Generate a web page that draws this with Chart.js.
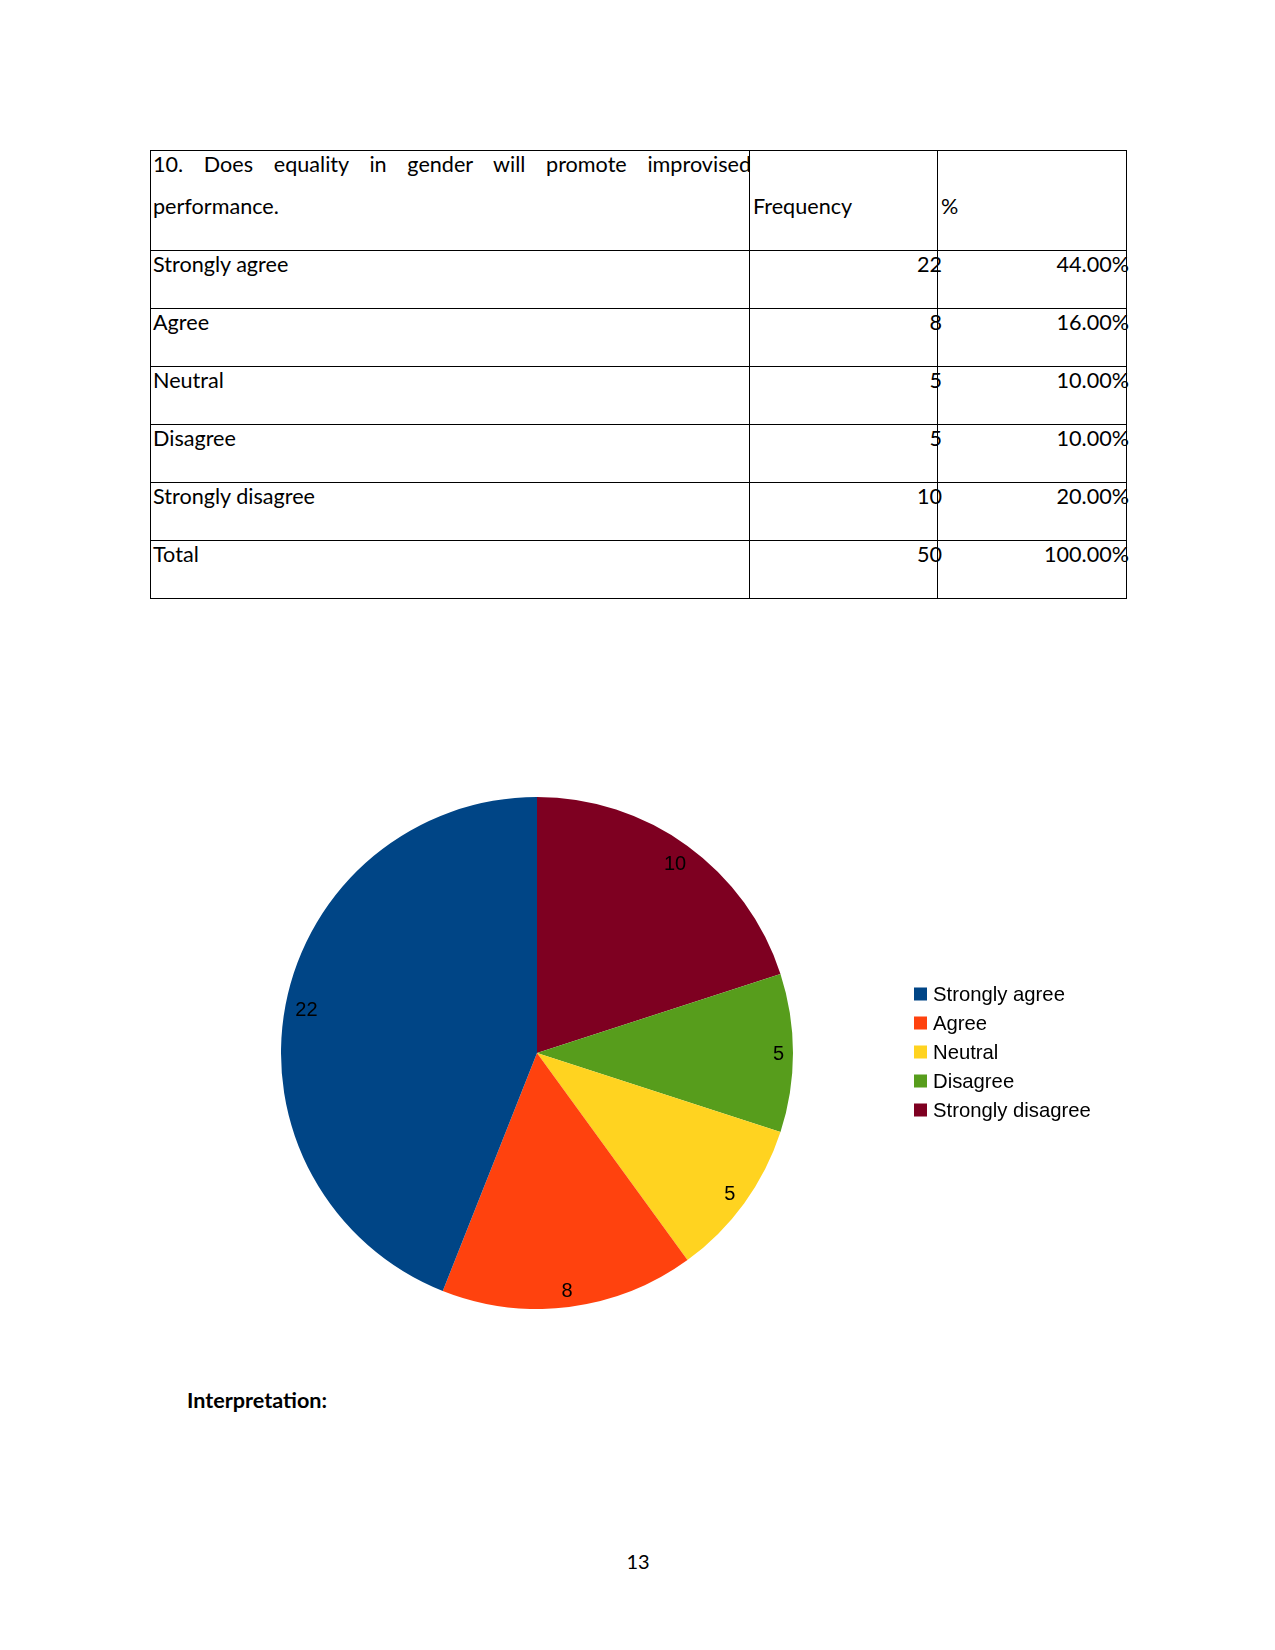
<!DOCTYPE html>
<html>
<head>
<meta charset="utf-8">
<script src="https://cdn.jsdelivr.net/npm/chart.js@4.4.0/dist/chart.umd.min.js"></script>
<style>
  html, body { margin: 0; padding: 0; background: #fff; }
  body { width: 1275px; height: 1650px; position: relative; overflow: hidden; font-family: Lato, "Liberation Sans", sans-serif; color: #000; }
  .t { position: absolute; font-size: 21.6px; line-height: 30px; white-space: nowrap; }
  .hl { position: absolute; background: #000; }
  #chartBox { position: absolute; left: 281px; top: 797px; width: 845px; height: 512px; }
</style>
</head>
<body>
<div id="table"></div>
<div id="chartBox"><canvas id="pie" width="845" height="512"></canvas></div>
<div class="t" style="left:187px; top:1385px; font-weight:bold;">Interpretation:</div>
<div class="t" style="left:618px; top:1546px; width:40px; text-align:center; font-size:20px;">13</div>

<script>
// ---- data ----
const question = "10. Does equality in gender will promote improvised";
const questionLine2 = "performance.";
const headerFreq = "Frequency";
const headerPct = "%";
const categories = ["Strongly agree", "Agree", "Neutral", "Disagree", "Strongly disagree"];
const frequencies = [22, 8, 5, 5, 10];
const percentLabels = ["44.00%", "16.00%", "10.00%", "10.00%", "20.00%"];
const totalLabel = "Total";
const totalFrequency = 50;
const totalPercent = "100.00%";
const sliceColors = ["#004586", "#ff420e", "#ffd320", "#579d1c", "#7e0021"];

// ---- table (HTML) ----
const tbl = document.getElementById('table');
const L = 150, R = 1126, C1 = 749, C2 = 937, TOP = 150, HEAD = 100, ROWH = 58;
const rows = categories.map((c, i) => [c, String(frequencies[i]), percentLabels[i]]);
rows.push([totalLabel, String(totalFrequency), totalPercent]);
const bottom = TOP + HEAD + ROWH * rows.length;
function line(x, y, w, h) {
  const d = document.createElement('div'); d.className = 'hl';
  d.style.left = x + 'px'; d.style.top = y + 'px'; d.style.width = w + 'px'; d.style.height = h + 'px';
  tbl.appendChild(d);
}
function text(str, x, cy, opts = {}) {
  const d = document.createElement('div'); d.className = 't';
  d.textContent = str;
  d.style.top = (cy - 15) + 'px';
  if (opts.right !== undefined) { d.style.left = (opts.right - 300) + 'px'; d.style.width = '300px'; d.style.textAlign = 'right'; }
  else d.style.left = x + 'px';
  if (opts.width) { d.style.width = opts.width + 'px'; d.style.whiteSpace = 'normal'; d.style.textAlign = 'justify'; d.style.textAlignLast = 'justify'; d.style.height = '30px'; }
  tbl.appendChild(d);
}
line(L, TOP, R - L + 1, 1);
line(L, TOP + HEAD, R - L + 1, 1);
for (let i = 1; i <= rows.length; i++) line(L, TOP + HEAD + ROWH * i, R - L + 1, 1);
line(L, TOP, 1, bottom - TOP + 1);
line(C1, TOP, 1, bottom - TOP + 1);
line(C2, TOP, 1, bottom - TOP + 1);
line(R, TOP, 1, bottom - TOP + 1);
text(question, 153, 164, { width: 598 });
text(questionLine2, 153, 206);
text(headerFreq, 753, 206);
text(headerPct, 941, 206);
rows.forEach((r, i) => {
  const cy = TOP + HEAD + ROWH * i + 14;
  text(r[0], 153, cy);
  text(r[1], 0, cy, { right: 942 });
  text(r[2], 0, cy, { right: 1129 });
});

// ---- chart ----
// Chart.js draws clockwise; the reference runs counter-clockwise from 12 o'clock,
// so the dataset is fed in reverse order.
const revLabels = categories.slice().reverse();
const revValues = frequencies.slice().reverse();
const revColors = sliceColors.slice().reverse();

const labelPlugin = {
  id: 'sliceLabels',
  afterDatasetsDraw(chart) {
    const ctx = chart.ctx;
    const meta = chart.getDatasetMeta(0);
    ctx.save();
    ctx.font = '20px "Liberation Sans", Arial, sans-serif';
    ctx.fillStyle = '#000';
    ctx.textAlign = 'center';
    ctx.textBaseline = 'middle';
    meta.data.forEach((arc, i) => {
      const p = arc.getProps(['x', 'y', 'startAngle', 'endAngle', 'outerRadius'], true);
      const mid = (p.startAngle + p.endAngle) / 2;
      const str = String(chart.data.datasets[0].data[i]);
      const hw = ctx.measureText(str).width / 2, hh = 7;
      const ext = hw * Math.abs(Math.cos(mid)) + hh * Math.abs(Math.sin(mid));
      const r = p.outerRadius - 9 - ext;
      ctx.fillText(str, p.x + r * Math.cos(mid), p.y + r * Math.sin(mid) + 1);
    });
    ctx.restore();
  }
};

const legendPlugin = {
  id: 'sideLegend',
  afterDraw(chart) {
    const ctx = chart.ctx;
    const x0 = 633, cy0 = 255, step = 29;
    ctx.save();
    ctx.font = '20.3px "Liberation Sans", Arial, sans-serif';
    ctx.textBaseline = 'middle';
    ctx.textAlign = 'left';
    categories.forEach((c, i) => {
      const cy = cy0 + (i - 2) * step;
      ctx.fillStyle = sliceColors[i];
      ctx.fillRect(x0, cy - 6.5, 13, 13);
      ctx.fillStyle = '#000';
      ctx.fillText(c, x0 + 19, cy + 1);
    });
    ctx.restore();
  }
};

new Chart(document.getElementById('pie'), {
  type: 'pie',
  data: {
    labels: revLabels,
    datasets: [{ data: revValues, backgroundColor: revColors, borderWidth: 0 }]
  },
  options: {
    responsive: false,
    animation: false,
    devicePixelRatio: 1,
    layout: { padding: { left: 0, top: 0, bottom: 0, right: 333 } },
    plugins: { legend: { display: false }, tooltip: { enabled: false } }
  },
  plugins: [labelPlugin, legendPlugin]
});
</script>
</body>
</html>
